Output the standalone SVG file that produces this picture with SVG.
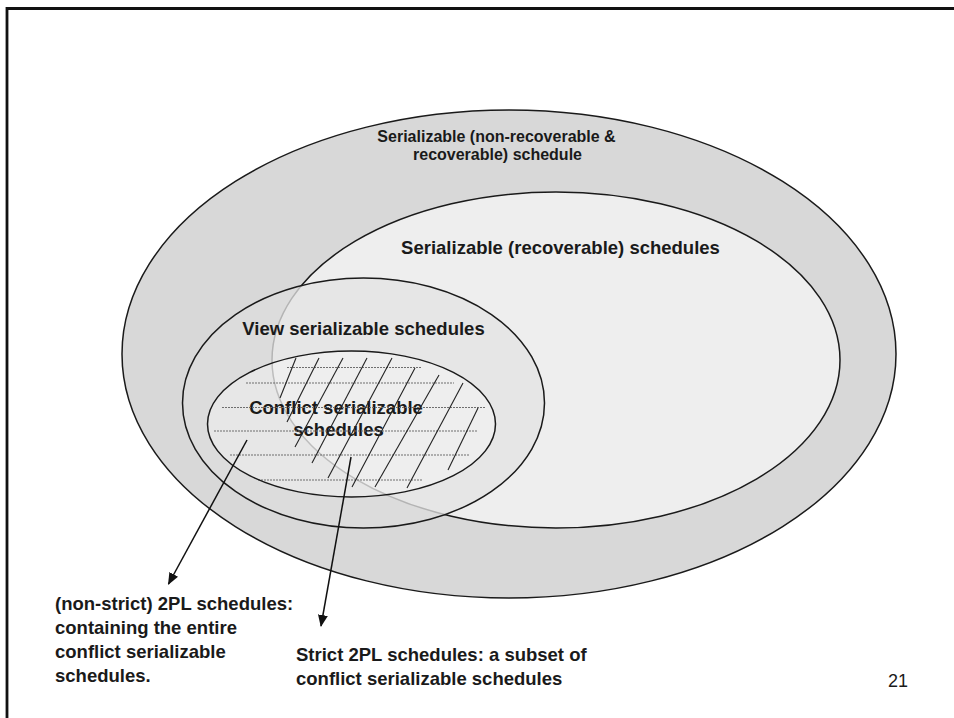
<svg xmlns="http://www.w3.org/2000/svg" width="954" height="718" viewBox="0 0 954 718">
<style>
.set{stroke:#1a1a1a;stroke-width:1.5}
.lbl{font-family:"Liberation Sans",Arial,sans-serif;font-weight:bold;fill:#1a1a1a}
.big{font-size:18.5px}
.hz{stroke:#6e6e6e;stroke-width:1.1;stroke-dasharray:2 1}
.dg{stroke:#222;stroke-width:1.1}
.conn{stroke:#111;stroke-width:1.5;fill:none}
</style>
<defs>
<clipPath id="clipView"><ellipse cx="363.5" cy="403" rx="181" ry="125"/></clipPath>
<clipPath id="clipConf"><ellipse cx="351.5" cy="424" rx="144" ry="73"/></clipPath>
<marker id="arr" markerWidth="12" markerHeight="10" refX="11" refY="5" orient="auto" markerUnits="userSpaceOnUse">
<path d="M0,0 L12,5 L0,10 Z" fill="#111"/>
</marker>
</defs>
<rect width="954" height="718" fill="#fff"/>
<path d="M7,718 V8.5 H954" fill="none" stroke="#111" stroke-width="2.8"/>

<g id="outer-set">
<ellipse class="set" cx="509" cy="354" rx="387" ry="244" fill="#d8d8d8"/>
<text class="lbl" font-size="16" text-anchor="middle" x="496.5" y="141.5">Serializable (non-recoverable &amp;</text>
<text class="lbl" font-size="16" text-anchor="middle" x="497.5" y="159.5">recoverable) schedule</text>
</g>

<g id="recoverable-set">
<ellipse class="set" cx="556" cy="360" rx="284" ry="168" fill="#eeeeee"/>
<text class="lbl big" text-anchor="middle" x="560.5" y="253.5">Serializable (recoverable) schedules</text>
</g>

<g id="view-set">
<ellipse cx="363.5" cy="403" rx="181" ry="125" fill="#dcdcdc"/>
<g clip-path="url(#clipView)">
<ellipse cx="556" cy="360" rx="284" ry="168" fill="#e6e6e6" stroke="#b4b4b4" stroke-width="1.5"/>
</g>
<ellipse class="set" cx="363.5" cy="403" rx="181" ry="125" fill="none"/>
<text class="lbl big" text-anchor="middle" x="363.5" y="334.5">View serializable schedules</text>
</g>

<g id="conflict-set">
<ellipse cx="351.5" cy="424" rx="144" ry="73" fill="#e7e7e7"/>
<g clip-path="url(#clipConf)">
<ellipse cx="556" cy="360" rx="284" ry="168" fill="#eeeeee" stroke="#bdbdbd" stroke-width="1.5"/>
</g>
<text class="lbl big" text-anchor="middle" x="336" y="413.5">Conflict serializable</text>
<text class="lbl big" text-anchor="middle" x="338.5" y="436">schedules</text>
<g id="hatch">
<line class="hz" x1="287" y1="367.5" x2="422" y2="367.5"/>
<line class="hz" x1="246" y1="383" x2="454" y2="383"/>
<line class="hz" x1="222" y1="407.5" x2="486" y2="407.5"/>
<line class="hz" x1="214" y1="431" x2="478" y2="431"/>
<line class="hz" x1="230" y1="455" x2="470" y2="455"/>
<line class="hz" x1="258" y1="480" x2="422" y2="480"/>
<line class="dg" x1="296" y1="358" x2="280" y2="398"/>
<line class="dg" x1="319" y1="358" x2="287" y2="422"/>
<line class="dg" x1="343" y1="358" x2="295" y2="447"/>
<line class="dg" x1="367" y1="358" x2="312" y2="463"/>
<line class="dg" x1="392" y1="358" x2="328" y2="478"/>
<line class="dg" x1="415" y1="368" x2="352" y2="487"/>
<line class="dg" x1="439" y1="375" x2="375" y2="487"/>
<line class="dg" x1="463" y1="383" x2="407" y2="488"/>
<line class="dg" x1="478" y1="408" x2="448" y2="470"/>
</g>
<ellipse class="set" cx="351.5" cy="424" rx="144" ry="73" fill="none"/>
</g>

<g id="connectors">
<line class="conn" x1="247" y1="440" x2="168.5" y2="584" marker-end="url(#arr)"/>
<line class="conn" x1="351" y1="457" x2="321" y2="626" marker-end="url(#arr)"/>
</g>

<g id="label-2pl">
<text class="lbl big" x="55" y="610">(non-strict) 2PL schedules:</text>
<text class="lbl big" x="55" y="634">containing the entire</text>
<text class="lbl big" x="55" y="658">conflict serializable</text>
<text class="lbl big" x="55" y="682">schedules.</text>
</g>

<g id="label-strict">
<text class="lbl big" x="296" y="661">Strict 2PL schedules: a subset of</text>
<text class="lbl big" x="296" y="685">conflict serializable schedules</text>
</g>

<text font-family="'Liberation Sans',Arial,sans-serif" font-size="18" fill="#1a1a1a" text-anchor="end" x="908" y="687">21</text>
</svg>
